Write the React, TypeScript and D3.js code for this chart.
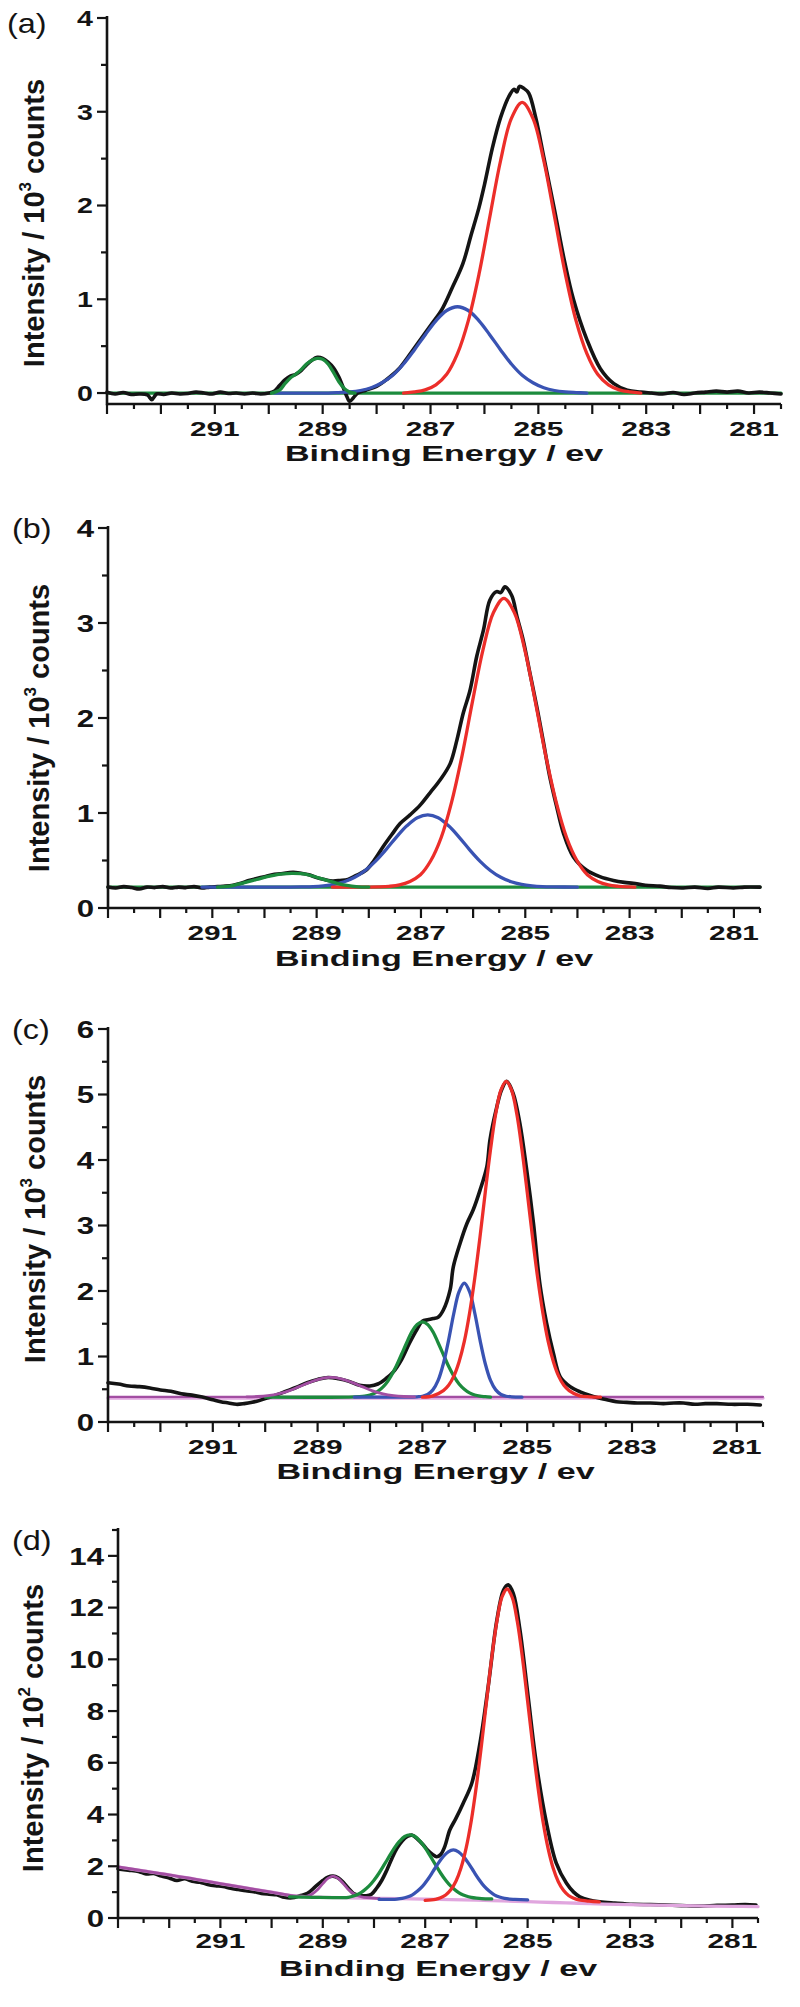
import React from "react";
import * as d3 from "d3";

type Pt = [number, number];

// shared x axis: binding energy, reversed
const energyDomain: [number, number] = [293, 280.5];
const xLabelValues = [291, 289, 287, 285, 283, 281];

const aYLabels = [0, 1, 2, 3, 4];
const bYLabels = [0, 1, 2, 3, 4];
const cYLabels = [0, 1, 2, 3, 4, 5, 6];
const dYLabels = [0, 2, 4, 6, 8, 10, 12, 14];

// ---- (a) values in 10^3 counts
const aBlack: Pt[] = [
  [293.0, 0.01], [292.85, -0.01], [292.7, 0.005], [292.55, -0.015], [292.4, -0.01], [292.25, -0.02],
  [292.17, -0.07], [292.08, -0.01], [291.95, -0.015], [291.8, 0.0], [291.65, -0.01], [291.5, -0.005],
  [291.35, 0.01], [291.2, 0.0], [291.05, -0.01], [290.9, 0.01], [290.75, -0.005], [290.6, 0.0],
  [290.45, -0.01], [290.3, 0.0], [290.15, -0.01], [290.0, 0.0], [289.9, 0.02], [289.8, 0.08],
  [289.7, 0.14], [289.6, 0.18], [289.5, 0.2], [289.4, 0.24], [289.3, 0.3], [289.2, 0.35],
  [289.1, 0.38], [289.0, 0.37], [288.9, 0.33], [288.8, 0.27], [288.7, 0.17], [288.62, 0.06],
  [288.55, -0.04], [288.5, -0.09], [288.43, -0.05], [288.35, 0.0], [288.2, 0.03], [288.0, 0.07],
  [287.8, 0.15], [287.6, 0.25], [287.4, 0.4], [287.2, 0.56], [287.0, 0.72], [286.8, 0.88],
  [286.6, 1.12], [286.4, 1.38], [286.25, 1.68], [286.1, 1.98], [286.0, 2.22], [285.85, 2.62],
  [285.7, 2.94], [285.55, 3.16], [285.45, 3.24], [285.4, 3.21], [285.35, 3.27], [285.27, 3.25],
  [285.18, 3.2], [285.05, 2.94], [284.9, 2.52], [284.7, 1.95], [284.52, 1.42], [284.35, 1.0],
  [284.1, 0.57], [283.85, 0.26], [283.6, 0.1], [283.35, 0.03], [283.1, 0.01], [282.9, 0.0],
  [282.7, -0.01], [282.5, 0.005], [282.3, -0.015], [282.1, 0.0], [281.9, 0.01], [281.7, 0.02],
  [281.5, 0.01], [281.3, 0.02], [281.1, 0.0], [280.9, 0.01], [280.7, 0.0], [280.5, -0.01],
];
const aRed: Pt[] = [
  [287.5, 0], [287.3, 0.012], [287.1, 0.034], [286.9, 0.088], [286.7, 0.2], [286.5, 0.42],
  [286.3, 0.77], [286.1, 1.27], [285.9, 1.88], [285.7, 2.48], [285.5, 2.93], [285.3, 3.1],
  [285.1, 2.93], [284.9, 2.48], [284.7, 1.88], [284.5, 1.27], [284.3, 0.77], [284.1, 0.42],
  [283.9, 0.2], [283.7, 0.088], [283.5, 0.034], [283.3, 0.012], [283.1, 0],
];
const aBlue: Pt[] = [
  [289.9, 0], [288.9, 0], [288.7, 0.005], [288.5, 0.012], [288.3, 0.027], [288.1, 0.057],
  [287.9, 0.11], [287.7, 0.19], [287.5, 0.31], [287.3, 0.46], [287.1, 0.62], [286.9, 0.77],
  [286.7, 0.88], [286.5, 0.92], [286.3, 0.88], [286.1, 0.77], [285.9, 0.62], [285.7, 0.46],
  [285.5, 0.31], [285.3, 0.19], [285.1, 0.11], [284.9, 0.057], [284.7, 0.027], [284.5, 0.012],
  [284.3, 0.005], [284.1, 0],
];
const aGreenBase: Pt[] = [[293, 0], [280.5, 0]];
const aGreen: Pt[] = [
  [289.95, 0], [289.8, 0.03], [289.7, 0.1], [289.6, 0.16], [289.5, 0.2], [289.4, 0.25],
  [289.3, 0.31], [289.2, 0.35], [289.1, 0.37], [289.0, 0.36], [288.9, 0.31], [288.8, 0.22],
  [288.7, 0.12], [288.6, 0.05], [288.5, 0.01], [288.4, 0],
];

// ---- (b) values in 10^3 counts
const bBlack: Pt[] = [
  [293.0, 0.22], [292.85, 0.21], [292.7, 0.225], [292.55, 0.215], [292.4, 0.2], [292.25, 0.22],
  [292.1, 0.215], [291.95, 0.225], [291.8, 0.21], [291.65, 0.22], [291.5, 0.215], [291.35, 0.225],
  [291.2, 0.21], [291.05, 0.22], [290.9, 0.225], [290.75, 0.23], [290.6, 0.24], [290.45, 0.26],
  [290.3, 0.29], [290.15, 0.31], [290.0, 0.33], [289.85, 0.35], [289.7, 0.36], [289.55, 0.37],
  [289.45, 0.375], [289.3, 0.365], [289.15, 0.35], [289.0, 0.32], [288.85, 0.3], [288.7, 0.285],
  [288.55, 0.29], [288.4, 0.3], [288.25, 0.34], [288.05, 0.4], [287.9, 0.5], [287.72, 0.65],
  [287.55, 0.78], [287.4, 0.89], [287.21, 0.98], [287.02, 1.08], [286.83, 1.21], [286.63, 1.35],
  [286.44, 1.52], [286.31, 1.77], [286.19, 2.05], [286.06, 2.29], [285.93, 2.65], [285.8, 2.93],
  [285.68, 3.24], [285.55, 3.33], [285.47, 3.32], [285.39, 3.38], [285.26, 3.29], [285.16, 3.07],
  [285.04, 2.82], [284.91, 2.47], [284.78, 2.12], [284.66, 1.77], [284.53, 1.38], [284.4, 1.07],
  [284.27, 0.79], [284.08, 0.54], [283.83, 0.4], [283.57, 0.33], [283.31, 0.29], [283.1, 0.27],
  [282.93, 0.26], [282.7, 0.24], [282.42, 0.23], [282.2, 0.215], [281.97, 0.21], [281.75, 0.22],
  [281.5, 0.205], [281.3, 0.22], [281.01, 0.21], [280.8, 0.22], [280.5, 0.22],
];
const bRed: Pt[] = [
  [288.7, 0.22], [288.0, 0.22], [287.81, 0.222], [287.61, 0.228], [287.41, 0.243], [287.21, 0.28],
  [287.01, 0.35], [286.81, 0.5], [286.61, 0.745], [286.41, 1.12], [286.21, 1.61], [286.01, 2.18],
  [285.81, 2.72], [285.61, 3.11], [285.41, 3.26], [285.21, 3.11], [285.01, 2.72], [284.81, 2.18],
  [284.61, 1.61], [284.41, 1.12], [284.21, 0.745], [284.01, 0.5], [283.81, 0.35], [283.61, 0.28],
  [283.41, 0.243], [283.21, 0.228], [283.01, 0.222], [282.9, 0.22],
];
const bBlue: Pt[] = [
  [291.2, 0.22], [289.5, 0.22], [289.27, 0.222], [289.07, 0.225], [288.87, 0.233], [288.67, 0.248],
  [288.47, 0.276], [288.27, 0.323], [288.07, 0.395], [287.87, 0.494], [287.67, 0.615], [287.47, 0.747],
  [287.27, 0.865], [287.07, 0.95], [286.87, 0.98], [286.67, 0.95], [286.47, 0.865], [286.27, 0.747],
  [286.07, 0.615], [285.87, 0.494], [285.67, 0.395], [285.47, 0.323], [285.27, 0.276], [285.07, 0.248],
  [284.87, 0.233], [284.67, 0.225], [284.47, 0.222], [284.0, 0.22],
];
const bGreenBase: Pt[] = [[293, 0.22], [280.5, 0.22]];
const bGreen: Pt[] = [
  [290.9, 0.22], [290.66, 0.23], [290.4, 0.265], [290.15, 0.3], [289.9, 0.335], [289.65, 0.36],
  [289.45, 0.365], [289.2, 0.355], [288.95, 0.315], [288.7, 0.275], [288.45, 0.24], [288.2, 0.222],
  [288.0, 0.22],
];

// ---- (c) values in 10^3 counts
const cBlack: Pt[] = [
  [293.0, 0.6], [292.8, 0.58], [292.6, 0.55], [292.4, 0.54], [292.2, 0.52], [292.0, 0.49],
  [291.8, 0.47], [291.6, 0.43], [291.4, 0.41], [291.2, 0.38], [291.0, 0.34], [290.85, 0.31],
  [290.7, 0.29], [290.55, 0.27], [290.4, 0.28], [290.25, 0.3], [290.1, 0.33], [289.95, 0.37],
  [289.8, 0.41], [289.6, 0.47], [289.4, 0.53], [289.2, 0.6], [289.0, 0.65], [288.8, 0.68],
  [288.6, 0.66], [288.4, 0.62], [288.2, 0.56], [288.0, 0.55], [287.85, 0.58], [287.7, 0.66],
  [287.55, 0.77], [287.4, 0.95], [287.25, 1.2], [287.1, 1.42], [287.0, 1.54], [286.9, 1.56],
  [286.79, 1.58], [286.7, 1.6], [286.6, 1.71], [286.47, 2.02], [286.41, 2.37], [286.28, 2.73],
  [286.15, 3.03], [286.03, 3.24], [285.9, 3.54], [285.77, 3.9], [285.71, 4.31], [285.58, 4.81],
  [285.49, 5.07], [285.39, 5.2], [285.27, 5.02], [285.14, 4.56], [285.01, 3.85], [284.88, 3.03],
  [284.76, 2.12], [284.63, 1.51], [284.5, 1.05], [284.37, 0.69], [284.18, 0.54], [283.99, 0.46],
  [283.74, 0.39], [283.48, 0.34], [283.3, 0.31], [283.1, 0.3], [282.9, 0.29], [282.65, 0.29],
  [282.4, 0.28], [282.2, 0.29], [282.02, 0.29], [281.8, 0.27], [281.6, 0.28], [281.38, 0.28],
  [281.1, 0.27], [280.8, 0.27], [280.55, 0.26],
];
const cRed: Pt[] = [
  [287.0, 0.38], [286.8, 0.4], [286.6, 0.48], [286.5, 0.56], [286.4, 0.7], [286.3, 0.92],
  [286.2, 1.23], [286.1, 1.66], [286.0, 2.2], [285.9, 2.83], [285.8, 3.51], [285.7, 4.16],
  [285.6, 4.71], [285.5, 5.07], [285.4, 5.2], [285.3, 5.07], [285.2, 4.71], [285.1, 4.16],
  [285.0, 3.51], [284.9, 2.83], [284.8, 2.2], [284.7, 1.66], [284.6, 1.23], [284.5, 0.92],
  [284.4, 0.7], [284.3, 0.56], [284.2, 0.48], [284.0, 0.4], [283.8, 0.385], [283.6, 0.38],
];
const cBlue: Pt[] = [
  [288.3, 0.38], [287.3, 0.38], [287.1, 0.385], [287.0, 0.393], [286.9, 0.42], [286.8, 0.49],
  [286.7, 0.635], [286.6, 0.89], [286.5, 1.25], [286.4, 1.66], [286.3, 1.99], [286.2, 2.12],
  [286.1, 1.99], [286.0, 1.66], [285.9, 1.25], [285.8, 0.89], [285.7, 0.635], [285.6, 0.49],
  [285.5, 0.42], [285.4, 0.393], [285.3, 0.385], [285.1, 0.38],
];
const cGreen: Pt[] = [
  [290.0, 0.38], [288.4, 0.38], [288.2, 0.387], [288.1, 0.395], [288.0, 0.412], [287.9, 0.444],
  [287.8, 0.5], [287.7, 0.58], [287.6, 0.7], [287.5, 0.85], [287.4, 1.03], [287.3, 1.21],
  [287.2, 1.38], [287.1, 1.49], [287.0, 1.53], [286.9, 1.49], [286.8, 1.38], [286.7, 1.21],
  [286.6, 1.03], [286.5, 0.85], [286.4, 0.7], [286.3, 0.58], [286.2, 0.5], [286.1, 0.444],
  [286.0, 0.412], [285.9, 0.395], [285.8, 0.387], [285.7, 0.38],
];
const cPurple: Pt[] = [
  [290.35, 0.383], [290.15, 0.389], [289.95, 0.403], [289.75, 0.43], [289.55, 0.476], [289.35, 0.54],
  [289.15, 0.605], [288.95, 0.66], [288.75, 0.68], [288.55, 0.66], [288.35, 0.605], [288.15, 0.54],
  [287.95, 0.476], [287.75, 0.43], [287.55, 0.403], [287.35, 0.389], [287.15, 0.383],
];
const cPurpleBase: Pt[] = [[293, 0.385], [280.5, 0.385]];
const cPinkBase: Pt[] = [[293, 0.365], [280.5, 0.365]];

// ---- (d) values in 10^2 counts
const dBlack: Pt[] = [
  [293.0, 1.9], [292.8, 1.85], [292.6, 1.8], [292.45, 1.7], [292.3, 1.72], [292.15, 1.62],
  [292.0, 1.55], [291.85, 1.45], [291.7, 1.52], [291.55, 1.42], [291.4, 1.38], [291.25, 1.3],
  [291.1, 1.25], [290.95, 1.22], [290.8, 1.15], [290.65, 1.1], [290.5, 1.05], [290.35, 1.02],
  [290.2, 0.95], [290.05, 0.92], [289.9, 0.9], [289.75, 0.8], [289.6, 0.78], [289.45, 0.86],
  [289.3, 0.95], [289.15, 1.2], [289.0, 1.45], [288.9, 1.58], [288.8, 1.62], [288.7, 1.55],
  [288.6, 1.38], [288.5, 1.15], [288.4, 0.95], [288.3, 0.88], [288.15, 0.86], [288.05, 0.92],
  [287.95, 1.15], [287.85, 1.45], [287.75, 1.85], [287.65, 2.3], [287.55, 2.7], [287.45, 2.98],
  [287.35, 3.15], [287.25, 3.2], [287.15, 3.05], [287.05, 2.85], [286.95, 2.62], [286.85, 2.45],
  [286.78, 2.37], [286.7, 2.45], [286.62, 2.75], [286.52, 3.4], [286.4, 3.85], [286.26, 4.43],
  [286.09, 5.21], [285.93, 6.76], [285.77, 8.94], [285.6, 11.52], [285.47, 12.68], [285.38, 12.88],
  [285.28, 12.55], [285.15, 11.14], [284.99, 8.56], [284.83, 5.98], [284.63, 3.66], [284.44, 2.12],
  [284.24, 1.34], [284.1, 1.0], [283.98, 0.82], [283.8, 0.7], [283.59, 0.63], [283.3, 0.58],
  [282.94, 0.53], [282.6, 0.52], [282.29, 0.5], [282.0, 0.48], [281.64, 0.46], [281.3, 0.49],
  [281.0, 0.5], [280.75, 0.52], [280.54, 0.5],
];
const dRed: Pt[] = [
  [287.0, 0.68], [286.8, 0.72], [286.7, 0.78], [286.6, 0.89], [286.5, 1.09], [286.4, 1.42],
  [286.3, 1.94], [286.2, 2.71], [286.1, 3.76], [286.0, 5.11], [285.9, 6.7], [285.8, 8.41],
  [285.7, 10.07], [285.6, 11.47], [285.5, 12.41], [285.4, 12.72], [285.3, 12.39], [285.2, 11.45],
  [285.1, 10.05], [285.0, 8.39], [284.9, 6.68], [284.8, 5.09], [284.7, 3.74], [284.6, 2.69],
  [284.5, 1.92], [284.4, 1.4], [284.3, 1.07], [284.2, 0.87], [284.1, 0.76], [284.0, 0.7],
  [283.8, 0.65], [283.6, 0.62],
];
const dBlue: Pt[] = [
  [287.9, 0.72], [287.65, 0.72], [287.55, 0.73], [287.45, 0.755], [287.35, 0.81], [287.25, 0.895],
  [287.15, 1.04], [287.05, 1.23], [286.95, 1.49], [286.85, 1.79], [286.75, 2.1], [286.65, 2.37],
  [286.55, 2.56], [286.45, 2.63], [286.35, 2.56], [286.25, 2.37], [286.15, 2.1], [286.05, 1.79],
  [285.95, 1.49], [285.85, 1.23], [285.75, 1.04], [285.65, 0.895], [285.55, 0.81], [285.45, 0.755],
  [285.35, 0.73], [285.25, 0.72], [285.0, 0.7],
];
const dGreen: Pt[] = [
  [289.65, 0.82], [289.2, 0.8], [288.8, 0.79], [288.6, 0.785], [288.5, 0.8], [288.4, 0.85],
  [288.3, 0.93], [288.2, 1.06], [288.1, 1.23], [288.0, 1.46], [287.9, 1.74], [287.8, 2.06],
  [287.7, 2.39], [287.6, 2.71], [287.5, 2.97], [287.4, 3.15], [287.3, 3.21], [287.2, 3.15],
  [287.1, 2.97], [287.0, 2.71], [286.9, 2.39], [286.8, 2.06], [286.7, 1.74], [286.6, 1.46],
  [286.5, 1.23], [286.4, 1.06], [286.3, 0.93], [286.2, 0.85], [286.1, 0.8], [286.0, 0.77],
  [285.9, 0.75], [285.7, 0.74],
];
const dPink: Pt[] = [
  [293.0, 1.98], [292.5, 1.82], [292.0, 1.67], [291.5, 1.5], [291.0, 1.33], [290.5, 1.16],
  [290.0, 1.0], [289.6, 0.86], [289.3, 0.82], [289.0, 0.8], [288.5, 0.78], [288.0, 0.76],
  [287.5, 0.75], [287.0, 0.73], [286.5, 0.71], [286.0, 0.69], [285.5, 0.66], [285.0, 0.63],
  [284.5, 0.6], [284.0, 0.57], [283.5, 0.54], [283.0, 0.52], [282.5, 0.5], [282.0, 0.48],
  [281.5, 0.46], [281.0, 0.45], [280.5, 0.44],
];
const dPurple: Pt[] = [
  [293.0, 1.98], [292.5, 1.82], [292.0, 1.67], [291.5, 1.5], [291.0, 1.33], [290.5, 1.16],
  [290.0, 1.0], [289.6, 0.86], [289.4, 0.82], [289.3, 0.85], [289.2, 0.94], [289.1, 1.1],
  [289.0, 1.33], [288.9, 1.53], [288.8, 1.62], [288.7, 1.53], [288.6, 1.33], [288.5, 1.1],
  [288.4, 0.94], [288.3, 0.85], [288.2, 0.8], [288.0, 0.77], [287.9, 0.76],
];

const FONT = "'Liberation Sans', Arial, Helvetica, sans-serif";
const INK = "#141414";
const C = {
  black: "#141414",
  red: "#ec2e2a",
  blue: "#3953b3",
  green: "#1c8b3d",
  purple: "#a24ea2",
  pink: "#e0a6de",
};

type Series = { data: Pt[]; color: string; width?: number };
type PanelCfg = {
  tag: string; tagX: number; tagY: number;
  left: number; right: number; top: number; bottom: number;
  yDomain: [number, number]; yLabels: number[]; yMinorStep: number;
  power: string; yTitleX: number; yTitleY: number;
  tickFont: number; numBase: number; titleBase: number;
  series: Series[];
};

const panels: PanelCfg[] = [
  {
    tag: "(a)", tagX: 7, tagY: 33, left: 107, right: 781, top: 18, bottom: 404,
    yDomain: [-0.117, 4], yLabels: aYLabels, yMinorStep: 0.5, power: "3", yTitleX: 44, yTitleY: 223,
    tickFont: 22, numBase: 32, titleBase: 57,
    series: [
      { data: aGreenBase, color: C.green }, { data: aBlack, color: C.black, width: 3.6 },
      { data: aBlue, color: C.blue }, { data: aRed, color: C.red }, { data: aGreen, color: C.green },
    ],
  },
  {
    tag: "(b)", tagX: 12, tagY: 538, left: 108, right: 760, top: 528, bottom: 908,
    yDomain: [0, 4], yLabels: bYLabels, yMinorStep: 0.5, power: "3", yTitleX: 49, yTitleY: 728,
    tickFont: 24, numBase: 32, titleBase: 58,
    series: [
      { data: bGreenBase, color: C.green }, { data: bBlack, color: C.black, width: 3.6 },
      { data: bBlue, color: C.blue }, { data: bRed, color: C.red }, { data: bGreen, color: C.green },
    ],
  },
  {
    tag: "(c)", tagX: 12, tagY: 1039, left: 108, right: 763, top: 1029, bottom: 1422,
    yDomain: [0, 6], yLabels: cYLabels, yMinorStep: 0.5, power: "3", yTitleX: 45, yTitleY: 1219,
    tickFont: 24, numBase: 32, titleBase: 57,
    series: [
      { data: cPinkBase, color: C.pink }, { data: cPurpleBase, color: C.purple, width: 2.2 },
      { data: cBlack, color: C.black, width: 3.6 }, { data: cGreen, color: C.green },
      { data: cBlue, color: C.blue }, { data: cRed, color: C.red }, { data: cPurple, color: C.purple, width: 2.8 },
    ],
  },
  {
    tag: "(d)", tagX: 12, tagY: 1550, left: 118, right: 758, top: 1530, bottom: 1918,
    yDomain: [0, 15], yLabels: dYLabels, yMinorStep: 1, power: "2", yTitleX: 43, yTitleY: 1728,
    tickFont: 24, numBase: 30, titleBase: 58,
    series: [
      { data: dBlack, color: C.black, width: 3.6 }, { data: dPink, color: C.pink },
      { data: dPurple, color: C.purple, width: 2.8 }, { data: dGreen, color: C.green },
      { data: dBlue, color: C.blue }, { data: dRed, color: C.red },
    ],
  },
];

function SText(props: {
  x: number; y: number; sx?: number; anchor?: string; size: number; weight?: string;
  dy?: string; children: React.ReactNode;
}) {
  const { x, y, sx = 1, anchor = "middle", size, weight = "bold", dy, children } = props;
  return (
    <text
      transform={`translate(${x},${y}) scale(${sx},1)`}
      textAnchor={anchor}
      fontSize={size}
      fontWeight={weight}
      fontFamily={FONT}
      dy={dy}
      fill={INK}
    >
      {children}
    </text>
  );
}

function Panel({ cfg }: { cfg: PanelCfg }) {
  const x = d3.scaleLinear().domain(energyDomain).range([cfg.left, cfg.right]);
  const y = d3.scaleLinear().domain(cfg.yDomain).range([cfg.bottom, cfg.top]);
  const line = d3
    .line<Pt>()
    .x((d) => x(d[0]))
    .y((d) => y(d[1]))
    .curve(d3.curveCatmullRom.alpha(0.5));

  const xTicks = d3.range(0, 26).map((i) => 293 - i * 0.5);
  const nMinor = Math.round(cfg.yDomain[1] / cfg.yMinorStep);
  const yTicks = d3.range(0, nMinor + 1).map((i) => i * cfg.yMinorStep);
  const axisW = 2.6;

  return (
    <g>
      {cfg.series.map((s, i) => (
        <path
          key={i}
          d={line(s.data) ?? ""}
          fill="none"
          stroke={s.color}
          strokeWidth={s.width ?? 3.3}
          strokeLinejoin="round"
          strokeLinecap="round"
        />
      ))}

      {/* x axis */}
      <line x1={cfg.left} x2={cfg.right} y1={cfg.bottom} y2={cfg.bottom} stroke={INK} strokeWidth={axisW} />
      {xTicks.map((t) => {
        const major = Math.abs(t - Math.round(t)) < 1e-6;
        return (
          <line key={t} x1={x(t)} x2={x(t)} y1={cfg.bottom} y2={cfg.bottom + (major ? 10 : 5)} stroke={INK} strokeWidth={2.2} />
        );
      })}
      {xLabelValues.map((v) => (
        <SText key={v} x={x(v)} y={cfg.bottom + cfg.numBase} sx={1.42} size={21}>
          {v}
        </SText>
      ))}
      <SText x={(cfg.left + cfg.right) / 2} y={cfg.bottom + cfg.titleBase} sx={1.55} size={22}>
        Binding Energy / ev
      </SText>

      {/* y axis */}
      <line x1={cfg.left} x2={cfg.left} y1={cfg.top - 2} y2={cfg.bottom + axisW / 2} stroke={INK} strokeWidth={axisW} />
      {yTicks.map((t) => {
        const major = cfg.yLabels.includes(t);
        return (
          <line key={t} x1={cfg.left - (major ? 10 : 6)} x2={cfg.left} y1={y(t)} y2={y(t)} stroke={INK} strokeWidth={2.2} />
        );
      })}
      {cfg.yLabels.map((v) => (
        <SText key={v} x={cfg.left - 14} y={y(v)} sx={1.3} anchor="end" size={cfg.tickFont} dy="0.36em">
          {v}
        </SText>
      ))}
      <text
        transform={`translate(${cfg.yTitleX},${cfg.yTitleY}) rotate(-90)`}
        textAnchor="middle"
        fontSize={29}
        fontWeight="bold"
        fontFamily={FONT}
        fill={INK}
      >
        <tspan>Intensity / 10</tspan>
        <tspan dy={-13} fontSize={17}>{cfg.power}</tspan>
        <tspan dy={13}> counts</tspan>
      </text>

      <SText x={cfg.tagX} y={cfg.tagY} sx={1.2} anchor="start" size={27} weight="normal">
        {cfg.tag}
      </SText>
    </g>
  );
}

export default function App() {
  return (
    <svg
      width={800}
      height={2007}
      viewBox="0 0 800 2007"
      style={{ position: "absolute", left: 0, top: 0, background: "#fff" }}
    >
      <rect width={800} height={2007} fill="#fff" />
      {panels.map((p) => (
        <Panel key={p.tag} cfg={p} />
      ))}
    </svg>
  );
}
